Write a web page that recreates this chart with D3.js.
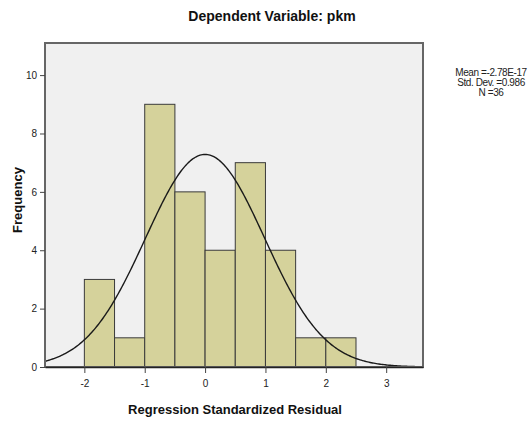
<!DOCTYPE html>
<html>
<head>
<meta charset="utf-8">
<script src="https://cdn.jsdelivr.net/npm/d3@7"></script>
<style>
  body { margin: 0; background: #fff; }
  svg { display: block; font-family: "Liberation Sans", Arial, sans-serif; }
</style>
</head>
<body>
<svg id="hist" width="532" height="425"></svg>
<script>
// histogram bins (lower edges) and counts
const binStarts = [-2, -1.5, -1, -0.5, 0, 0.5, 1, 1.5, 2];
const binWidth = 0.5;
const counts = [3, 1, 9, 6, 4, 7, 4, 1, 1];
const xTicks = [-2, -1, 0, 1, 2, 3];
const yTicks = [0, 2, 4, 6, 8, 10];
// fitted normal, from the stats box
const mean = -2.78e-17;
const sd = 0.986;
const n = 36;
const statLines = ["Mean =-2.78E-17", "Std. Dev. =0.986", "N =36"];

const svg = d3.select("svg#hist");
const plotL = 45, plotR = 423, plotT = 43, plotB = 367;

const x = d3.scaleLinear().domain([-2.652, 3.61]).range([plotL, plotR]);
const y = d3.scaleLinear().domain([0, 11.1]).range([plotB, plotT]);

svg.append("rect")
    .attr("x", plotL).attr("y", plotT)
    .attr("width", plotR - plotL).attr("height", plotB - plotT)
    .attr("fill", "#f0f0f0");

let bins = binStarts.map((b, i) => ({x0: b, x1: b + binWidth, n: counts[i]}));

svg.append("g")
  .selectAll("rect")
  .data(bins)
  .enter().append("rect")
    .attr("x", d => x(d.x0))
    .attr("y", d => y(d.n))
    .attr("width", d => x(d.x1) - x(d.x0))
    .attr("height", d => y(0) - y(d.n))
    .attr("fill", "#d5d29b")
    .attr("stroke", "#3a3a3a")
    .attr("stroke-width", 1);

// normal curve scaled to the counts
let k = n * binWidth / (sd * Math.sqrt(2 * Math.PI));
let curve = d3.range(0, 301).map(i => {
  let v = x.domain()[0] + i * (x.domain()[1] - x.domain()[0]) / 300;
  return [v, k * Math.exp(-0.5 * Math.pow((v - mean) / sd, 2))];
});
svg.append("path")
    .datum(curve)
    .attr("d", d3.line().x(d => x(d[0])).y(d => y(d[1])))
    .attr("fill", "none")
    .attr("stroke", "#1a1a1a")
    .attr("stroke-width", 1.4);

// frame
svg.append("rect")
    .attr("x", plotL).attr("y", plotT)
    .attr("width", plotR - plotL).attr("height", plotB - plotT)
    .attr("fill", "none")
    .attr("stroke", "#666")
    .attr("stroke-width", 2);

let xAxis = svg.append("g")
    .attr("transform", "translate(0," + plotB + ")")
    .call(d3.axisBottom(x).tickValues(xTicks).tickSize(6).tickSizeOuter(0).tickFormat(d => String(d)));
let yAxis = svg.append("g")
    .attr("transform", "translate(" + plotL + ",0)")
    .call(d3.axisLeft(y).tickValues(yTicks).tickSize(5).tickSizeOuter(0).tickFormat(d => String(d)));

[xAxis, yAxis].forEach(a => {
  a.select(".domain").attr("stroke", "#222").attr("stroke-width", 1.5);
  a.selectAll(".tick line").attr("stroke", "#444");
  a.selectAll(".tick text")
      .attr("fill", "#222")
      .style("font-size", "10px")
      .style("font-family", "'Liberation Sans', Arial, sans-serif");
});
yAxis.select(".domain").remove();
xAxis.selectAll(".tick text").attr("dy", "1.05em");

svg.append("text")
    .attr("x", 272).attr("y", 21)
    .attr("text-anchor", "middle")
    .style("font-size", "14px").style("font-weight", "bold")
    .attr("fill", "#111")
    .text("Dependent Variable: pkm");

svg.append("text")
    .attr("x", 235).attr("y", 414)
    .attr("text-anchor", "middle")
    .style("font-size", "13px").style("font-weight", "bold")
    .attr("fill", "#111")
    .text("Regression Standardized Residual");

svg.append("text")
    .attr("transform", "translate(22,200) rotate(-90)")
    .attr("text-anchor", "middle")
    .style("font-size", "13px").style("font-weight", "bold")
    .attr("fill", "#111")
    .text("Frequency");

svg.append("g")
  .selectAll("text")
  .data(statLines)
  .enter().append("text")
    .attr("x", 491)
    .attr("y", (d, i) => 76 + i * 10)
    .attr("text-anchor", "middle")
    .style("font-size", "10px")
    .style("letter-spacing", "-0.4px")
    .attr("fill", "#222")
    .text(d => d);
</script>
</body>
</html>
